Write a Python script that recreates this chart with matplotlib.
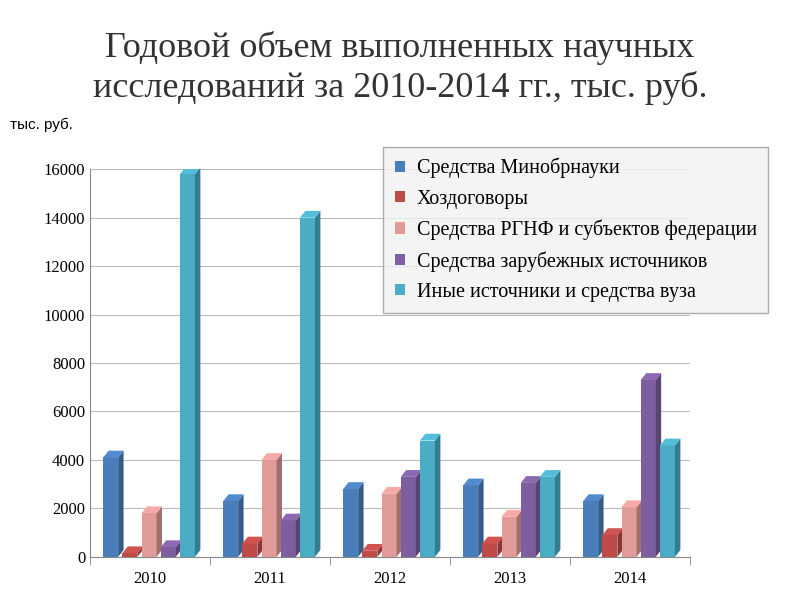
import matplotlib.pyplot as plt
import numpy as np
from matplotlib.patches import Polygon
from matplotlib.colors import to_rgb

plt.rcParams['font.family'] = ['Liberation Serif', 'DejaVu Serif']

years = ["2010", "2011", "2012", "2013", "2014"]
series = [
    "Средства Минобрнауки",
    "Хоздоговоры",
    "Средства РГНФ и субъектов федерации",
    "Средства зарубежных источников",
    "Иные источники и средства вуза",
]
values = [
    [4100, 2300, 2800, 2950, 2300],
    [150, 550, 250, 550, 900],
    [1800, 4000, 2600, 1650, 2050],
    [400, 1500, 3300, 3050, 7300],
    [15800, 14000, 4800, 3300, 4600],
]
colors = ["#4a7ebb", "#be4b48", "#e09a98", "#7d5fa0", "#4bacc6"]

fig = plt.figure(figsize=(8, 6), dpi=100)
fig.text(0.5, 0.887, "Годовой объем выполненных научных\nисследований за 2010-2014 гг., тыс. руб.",
         ha="center", va="center", fontsize=26, color="#333333", linespacing=1.25)

ax = fig.add_axes([0.1125, 0.072, 0.75, 0.646])
w = 0.16
dx, dy = 0.045, 280
x = np.arange(len(years))
for i, (vals, c) in enumerate(zip(values, colors)):
    xs = x - 2 * w + i * w - 0.07
    ax.bar(xs, vals, width=w * 0.78, color=c, align="edge", zorder=3,
           label=series[i], edgecolor="none")
    dark = tuple(v * 0.72 for v in to_rgb(c))
    light = tuple(min(1, v * 1.1) for v in to_rgb(c))
    for xi, v in zip(xs, vals):
        r = xi + w * 0.78
        ax.add_patch(Polygon([(r, 0), (r + dx, dy), (r + dx, v + dy), (r, v)],
                             color=dark, zorder=3, lw=0))
        ax.add_patch(Polygon([(xi, v), (xi + dx, v + dy), (r + dx, v + dy), (r, v)],
                             color=light, zorder=3, lw=0))

ax.set_xlim(-0.5, 4.5)
ax.set_ylim(0, 16000)
ax.set_yticks(range(0, 16001, 2000))
ax.set_xticks(x)
ax.set_xticklabels(years)
ax.set_xticks(np.arange(-0.5, 5, 1), minor=True)
ax.tick_params(axis="x", which="major", length=0, labelsize=12, pad=10)
ax.tick_params(axis="x", which="minor", length=6, color="#888888")
ax.tick_params(axis="y", labelsize=12, length=0)
ax.grid(axis="y", color="#bbbbbb", lw=0.8, zorder=0)
for s in ["top", "right"]:
    ax.spines[s].set_visible(False)
ax.spines["left"].set_color("#888888")
ax.spines["bottom"].set_color("#888888")
fig.text(0.012, 0.785, "тыс. руб.", fontsize=11, family=["Liberation Sans"])

leg = ax.legend(loc="upper right", bbox_to_anchor=(0.9725, 0.772),
                bbox_transform=fig.transFigure, fontsize=14.5,
                frameon=True, fancybox=False, handlelength=0.5, handleheight=0.5,
                labelspacing=0.55, borderpad=0.55, handletextpad=0.6)
leg.get_frame().set_facecolor("#f2f2f2")
leg.get_frame().set_edgecolor("#999999")

fig.savefig("out.png")
